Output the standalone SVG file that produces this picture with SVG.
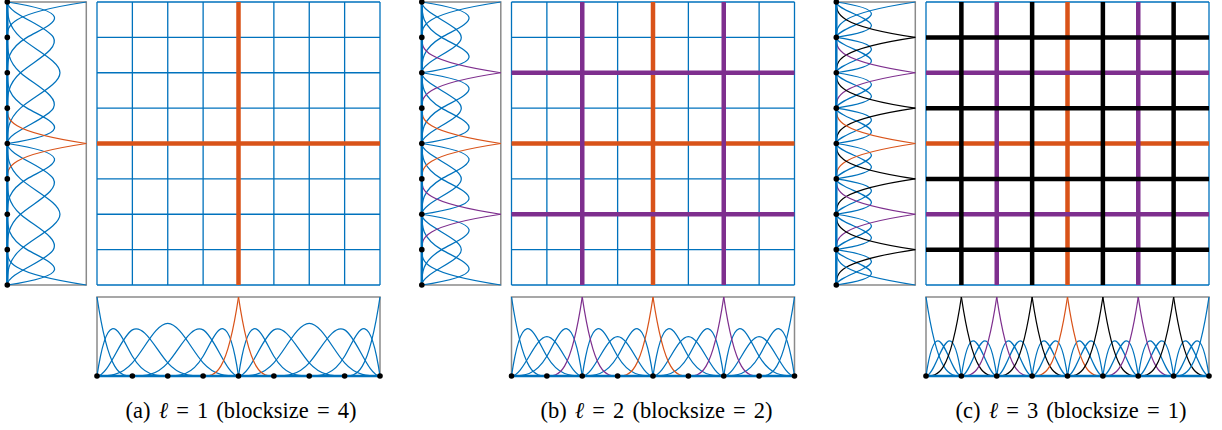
<svg xmlns="http://www.w3.org/2000/svg" width="1222" height="430" viewBox="0 0 1222 430">
<style>
.ns{vector-effect:non-scaling-stroke;fill:none;stroke-linejoin:round}
.crv{stroke-width:1.25}
.cb{stroke:#0072BD}
.co{stroke:#D95319}
.cp{stroke:#7E2F8E}
.ck{stroke:#000000}
.thin{stroke:#0072BD;stroke-width:1.3}
.thick{stroke-width:4.5}
.box{fill:none;stroke:#8a8a8a;stroke-width:1.5}
.axis{fill:none;stroke:#0072BD;stroke-width:2.5}
.dot{fill:#000}
.cap{font-family:"Liberation Serif","Times New Roman",serif;font-size:22.5px;word-spacing:2.5px;fill:#000;text-anchor:middle}
</style>
<defs>
  <path id="L" class="ns" d="M0,-1C0.3333,0 0.6667,0 1,0"/>
  <path id="R" class="ns" d="M0,0C0.3333,0 0.6667,0 1,-1"/>
  <g id="a-int" class="cb">
    <path class="ns" d="M0,0C0.3333,-1 0.6667,-0.5 1,-0.25C1.3333,0 1.6667,0 2,0"/>
    <path class="ns" d="M0,0C0.3333,0 0.6667,-0.5 1,-0.5833C1.3333,-0.6667 1.6667,-0.3333 2,-0.1667C2.3333,0 2.6667,0 3,0"/>
    <path class="ns" d="M0,0C0.3333,0 0.6667,0 1,-0.1667C1.3333,-0.3333 1.6667,-0.6667 2,-0.6667C2.3333,-0.6667 2.6667,-0.3333 3,-0.1667C3.3333,0 3.6667,0 4,0"/>
    <path class="ns" d="M1,0C1.3333,0 1.6667,0 2,-0.1667C2.3333,-0.3333 2.6667,-0.6667 3,-0.5833C3.3333,-0.5 3.6667,0 4,0"/>
    <path class="ns" d="M2,0C2.3333,0 2.6667,0 3,-0.25C3.3333,-0.5 3.6667,-1 4,0"/>
  </g>
  <g id="b-int" class="cb">
    <path class="ns" d="M0,0C0.3333,-1 0.6667,-0.5 1,-0.25C1.3333,0 1.6667,0 2,0"/>
    <path class="ns" d="M0,0C0.3333,0 0.6667,-0.5 1,-0.5C1.3333,-0.5 1.6667,0 2,0"/>
    <path class="ns" d="M0,0C0.3333,0 0.6667,0 1,-0.25C1.3333,-0.5 1.6667,-1 2,0"/>
  </g>
  <g id="c-int" class="cb">
    <path class="ns" d="M0,0C0.3333,-1 0.6667,0 1,0M0,0C0.3333,0 0.6667,-1 1,0"/>
  </g>
  <g id="a-plot" class="crv">
    <use href="#a-int"/><use href="#a-int" x="4"/>
    <use href="#L" class="cb"/><use href="#L" x="4" class="co"/>
    <use href="#R" x="3" class="co"/><use href="#R" x="7" class="cb"/>
  </g>
  <g id="b-plot" class="crv">
    <use href="#b-int"/><use href="#b-int" x="2"/><use href="#b-int" x="4"/><use href="#b-int" x="6"/>
    <use href="#L" class="cb"/><use href="#L" x="2" class="cp"/><use href="#L" x="4" class="co"/><use href="#L" x="6" class="cp"/>
    <use href="#R" x="1" class="cp"/><use href="#R" x="3" class="co"/><use href="#R" x="5" class="cp"/><use href="#R" x="7" class="cb"/>
  </g>
  <g id="c-plot" class="crv">
    <use href="#c-int"/><use href="#c-int" x="1"/><use href="#c-int" x="2"/><use href="#c-int" x="3"/>
    <use href="#c-int" x="4"/><use href="#c-int" x="5"/><use href="#c-int" x="6"/><use href="#c-int" x="7"/>
    <use href="#L" class="cb"/><use href="#L" x="1" class="ck"/><use href="#L" x="2" class="cp"/><use href="#L" x="3" class="ck"/>
    <use href="#L" x="4" class="co"/><use href="#L" x="5" class="ck"/><use href="#L" x="6" class="cp"/><use href="#L" x="7" class="ck"/>
    <use href="#R" class="ck"/><use href="#R" x="1" class="cp"/><use href="#R" x="2" class="ck"/><use href="#R" x="3" class="co"/>
    <use href="#R" x="4" class="ck"/><use href="#R" x="5" class="cp"/><use href="#R" x="6" class="ck"/><use href="#R" x="7" class="cb"/>
  </g>
  <path id="g8" class="ns" d="M0,0V8M1,0V8M2,0V8M3,0V8M4,0V8M5,0V8M6,0V8M7,0V8M8,0V8M0,0H8M0,1H8M0,2H8M0,3H8M0,4H8M0,5H8M0,6H8M0,7H8M0,8H8"/>
  <path id="lv1" class="ns" d="M4,0V8M0,4H8"/>
  <path id="lv2" class="ns" d="M2,0V8M6,0V8M0,2H8M0,6H8"/>
  <path id="lv3" class="ns" d="M1,0V8M3,0V8M5,0V8M7,0V8M0,1H8M0,3H8M0,5H8M0,7H8"/>
  <g id="dots" class="dot">
    <circle cx="0" cy="0" r="2.8"/><circle cx="35.375" cy="0" r="2.8"/><circle cx="70.75" cy="0" r="2.8"/>
    <circle cx="106.125" cy="0" r="2.8"/><circle cx="141.5" cy="0" r="2.8"/><circle cx="176.875" cy="0" r="2.8"/>
    <circle cx="212.25" cy="0" r="2.8"/><circle cx="247.625" cy="0" r="2.8"/><circle cx="283" cy="0" r="2.8"/>
  </g>
  <g id="frames">
    <path class="box" d="M7.3,2H86.3V285H7.3"/>
    <path class="box" d="M97,376V297H380V376"/>
  </g>
  <g id="axes">
    <path class="axis" d="M7.3,2V285"/>
    <path class="axis" d="M97,376H380"/>
    <use href="#dots" transform="translate(97,376)"/>
    <use href="#dots" transform="translate(7.3,2) rotate(90)"/>
  </g>
</defs>

<g id="panel-a">
  <use href="#frames"/>
  <g id="grid-a" transform="translate(97,2) scale(35.375)">
    <use href="#g8" class="thin"/>
    <use href="#lv1" class="thick co"/>
  </g>
  <g id="curves-a">
    <use href="#a-plot" transform="translate(97,376) scale(35.375,79)"/>
    <use href="#a-plot" transform="matrix(0,35.375,-79,0,7.3,2)"/>
  </g>
  <use href="#axes"/>
  <text class="cap" x="241" y="418">(a) <tspan font-style="italic">ℓ</tspan> = 1 (blocksize = 4)</text>
</g>

<g id="panel-b" transform="translate(414.5,0)">
  <use href="#frames"/>
  <g id="grid-b" transform="translate(97,2) scale(35.375)">
    <use href="#g8" class="thin"/>
    <use href="#lv1" class="thick co"/>
    <use href="#lv2" class="thick cp"/>
  </g>
  <g id="curves-b">
    <use href="#b-plot" transform="translate(97,376) scale(35.375,79)"/>
    <use href="#b-plot" transform="matrix(0,35.375,-79,0,7.3,2)"/>
  </g>
  <use href="#axes"/>
  <text class="cap" x="242" y="418">(b) <tspan font-style="italic">ℓ</tspan> = 2 (blocksize = 2)</text>
</g>

<g id="panel-c" transform="translate(829,0)">
  <use href="#frames"/>
  <g id="grid-c" transform="translate(97,2) scale(35.375)">
    <use href="#g8" class="thin"/>
    <use href="#lv1" class="thick co"/>
    <use href="#lv2" class="thick cp"/>
    <use href="#lv3" class="thick ck"/>
  </g>
  <g id="curves-c">
    <use href="#c-plot" transform="translate(97,376) scale(35.375,79)"/>
    <use href="#c-plot" transform="matrix(0,35.375,-79,0,7.3,2)"/>
  </g>
  <use href="#axes"/>
  <text class="cap" x="242" y="418">(c) <tspan font-style="italic">ℓ</tspan> = 3 (blocksize = 1)</text>
</g>
</svg>
